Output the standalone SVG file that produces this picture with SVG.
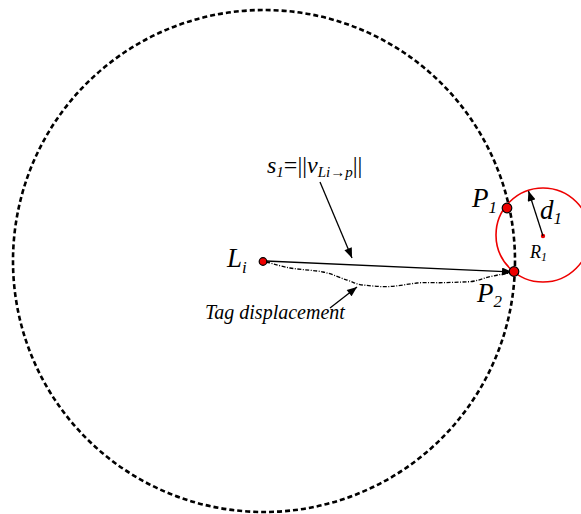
<svg xmlns="http://www.w3.org/2000/svg" width="581" height="514" viewBox="0 0 581 514">
<style>
text{font-family:"Liberation Serif","Times New Roman",serif;font-style:italic;fill:#000}
.conn{fill:none;stroke:#000;stroke-width:1.3}
.dot{fill:#e00;stroke:#000;stroke-width:1.2}
.rdot{fill:#e00;stroke:none}
</style>
<defs>
<marker id="ah" viewBox="0 0 10 8" refX="10" refY="4" markerWidth="11" markerHeight="8" markerUnits="userSpaceOnUse" orient="auto">
<path d="M0,0 L10,4 L0,8 Z" fill="#000"/>
</marker>
</defs>
<rect width="581" height="514" fill="#fff"/>
<g id="range-circle">
<circle cx="264" cy="261" r="251" fill="none" stroke="#000" stroke-width="2.6" stroke-dasharray="5 3"/>
</g>
<g id="R1-circle">
<circle cx="543" cy="235" r="47" fill="none" stroke="#e00" stroke-width="1.6"/>
<circle class="rdot" cx="543" cy="236" r="2.2"/>
<text x="530" y="258" font-size="18">R<tspan font-size="12" dy="3">1</tspan></text>
</g>
<g id="connectors">
<line class="conn" x1="266" y1="261" x2="512" y2="272" marker-end="url(#ah)"/>
<path class="conn" stroke-dasharray="4 1.5 1 1.5" d="M266,262 C275,264 283,267 290,268 C302,270 314,270 323,272 C333,274 340,278 347,280 C353,282 358,285 363,285 C372,286 381,287 390,286.5 C399,286 408,284 417,283 C426,282 435,283 443,282.7 C452,282.5 461,282 470,281.7 C478,281 484,278 490,276.7 C497,275 503,274 510,273"/>
<line class="conn" x1="320" y1="182" x2="352" y2="258" marker-end="url(#ah)"/>
<line class="conn" x1="330" y1="308" x2="357" y2="287" marker-end="url(#ah)"/>
<line class="conn" x1="543" y1="236" x2="528.5" y2="191" marker-end="url(#ah)"/>
</g>
<g id="Li">
<circle class="dot" cx="263" cy="261.5" r="3.8"/>
<text x="227" y="267" font-size="27">L<tspan font-size="17" dy="6">i</tspan></text>
</g>
<g id="P1">
<circle class="dot" cx="507" cy="208" r="4.8" stroke="none"/>
<text x="472" y="207" font-size="27">P<tspan font-size="17" dy="6">1</tspan></text>
</g>
<g id="P2">
<circle class="dot" cx="514" cy="271.5" r="4.8" stroke="none"/>
<text x="477" y="302" font-size="27">P<tspan font-size="17" dy="5">2</tspan></text>
</g>
<g id="d1-label">
<text x="540" y="219" font-size="27">d<tspan font-size="17" dy="5">1</tspan></text>
</g>
<g id="s1-label">
<text x="267" y="173" font-size="24">s<tspan font-size="15" dy="4">1</tspan><tspan dy="-4" font-style="normal">=||</tspan>v<tspan font-size="15" dy="4">Li→p</tspan><tspan dy="-4" font-style="normal">||</tspan></text>
</g>
<g id="tag-label">
<text x="205" y="319" font-size="20">Tag displacement</text>
</g>
</svg>
